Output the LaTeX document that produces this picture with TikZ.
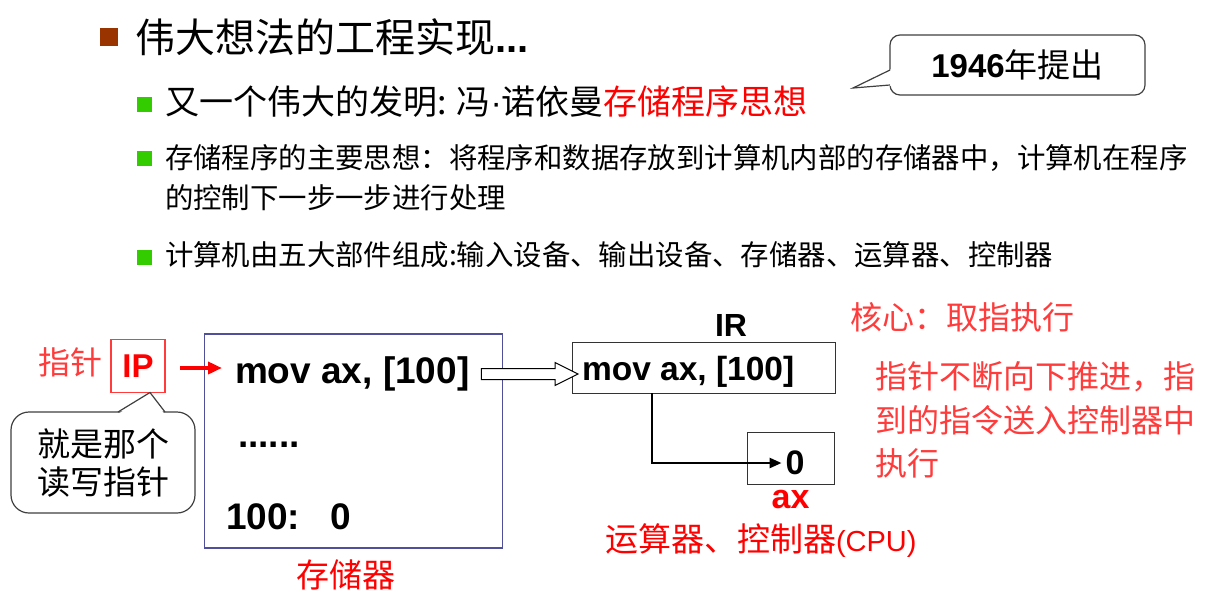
\documentclass[tikz,border=0pt]{standalone}
\usepackage{fontspec}
\setmainfont{Liberation Sans}
\newfontfamily\cjk{Noto Sans CJK SC}
\usepackage{xcolor}
\usetikzlibrary{positioning,calc,arrows.meta}
\definecolor{bulletgreen}{HTML}{33CC00}
\definecolor{titlebrown}{HTML}{993300}
\definecolor{hotred}{HTML}{FF0000}
\definecolor{softred}{HTML}{FF3B3B}
\definecolor{memblue}{HTML}{50509A}
\newcommand{\setpx}[2]{\fontsize{#1}{#2}\selectfont}

\begin{document}
\begin{tikzpicture}[
    x=1pt, y=-1pt,
    node distance=10pt and 10pt,
    every node/.style={inner sep=0pt, outer sep=0pt},
    titlebullet/.style={rectangle, fill=titlebrown, minimum size=18pt},
    bullet/.style={rectangle, fill=bulletgreen, minimum size=15pt},
    heading/.style={anchor=west, font=\cjk\setpx{40}{40}},
    point/.style={anchor=west, font=\cjk\setpx{34}{34}},
    subpoint/.style={anchor=north west, align=left, font=\cjk\setpx{28.4}{40}},
    note/.style={rectangle, draw=black!75, line width=1.2pt, fill=white, align=center},
    redtext/.style={text=softred, font=\cjk\setpx{32}{43.5}},
    hottext/.style={text=hotred, font=\cjk\setpx{33}{33}},
    code/.style={anchor=west, font=\bfseries\setpx{37}{37}},
    regbox/.style={rectangle, draw=black!80, line width=1pt},
    ptr/.style={-{Triangle[length=14pt,width=12pt]}, draw=hotred, line width=4pt},
    flow/.style={-{Triangle[length=12pt,width=10pt]}, line width=2.5pt},
    hollow/.style={draw=black, line width=1pt, fill=white, line join=miter}
]
\useasboundingbox (0,0) rectangle (1225,595);
\fill[white] (0,0) rectangle (1225,595);

% Title
\node[titlebullet] (tbullet) at (109,37) {};
\node[heading] (title) at (135,37) {伟大想法的工程实现{\bfseries\rmfamily...}};

% Points
\node[bullet] (b1) at (144.5,104.5) {};
\node[point] (p1) at (165,102) {又一个伟大的发明: 冯{\rmfamily ·}诺依曼\textcolor{hotred}{存储程序思想}};
\node[bullet] (b2) at (144.5,158.5) {};
\node[subpoint] (p2) at (165,144) {存储程序的主要思想：将程序和数据存放到计算机内部的存储器中，计算机在程序\\的控制下一步一步进行处理};
\node[bullet] (b3) at (144.5,257) {};
\node[point, font=\cjk\setpx{28.4}{28.4}] (p3) at (165,255) {计算机由五大部件组成:输入设备、输出设备、存储器、运算器、控制器};

% Year callout
\node[note, rounded corners=10pt, minimum width=255pt, minimum height=60pt] (yearbox) at (1017.5,65)
    {\setpx{33}{33}\bfseries 1946{\cjk\mdseries 年提出}};
\coordinate (yeartip) at ([shift={(-37,23)}]yearbox.west);
\fill[white] ([shift={(1.5,4)}]yearbox.west) -- (yeartip) -- ([shift={(1.5,21)}]yearbox.west) -- cycle;
\draw[black!75, line width=1.2pt] ([shift={(0,5)}]yearbox.west) -- (yeartip) -- ([shift={(0,20)}]yearbox.west);

% Pointer
\node[redtext, anchor=west] (ptrname) at (38,362) {指针};
\node[rectangle, draw=softred, line width=1.2pt, minimum width=54pt, minimum height=53pt,
      text=hotred, font=\bfseries\setpx{33}{33}] (ip) at (138,366) {IP};

% Memory
\node[rectangle, draw=memblue, line width=1.5pt, minimum width=298pt, minimum height=214pt] (mem) at (353.5,441) {};
\node[code] (instr) at (235,374) {mov ax, [100]};
\node[code] (dots) at (238,445) {......};
\node[code] (cell) at (226,517) {100:\ \ \ 0};
\node[hottext, below=12pt of mem, xshift=-8pt] (memname) {存储器};

\draw[ptr] ([xshift=15pt,yshift=-2pt]ip.east) -- ([xshift=-13pt,yshift=-2pt]instr.west |- ip.east);

% IP note
\node[note, rounded corners=18pt, minimum width=184pt, minimum height=101pt,
      font=\cjk\setpx{33}{38}] (ipnote) at (103,462.5) {就是那个\\读写指针};
\coordinate (iptip) at ([xshift=12pt]ip.south);
\fill[white] ([shift={(16,1.5)}]ipnote.north) -- (iptip) -- ([shift={(61,1.5)}]ipnote.north) -- cycle;
\draw[black!75, line width=1.2pt] ([xshift=15pt]ipnote.north) -- (iptip) -- ([xshift=62pt]ipnote.north);

% CPU side
\node[regbox, minimum width=263pt, minimum height=51pt] (irbox) at (703.5,367.5) {};
\node[code, font=\bfseries\setpx{33.5}{33.5}] (irtext) at (582,372) {mov ax, [100]};
\node[font=\bfseries\setpx{32}{32}] (irname) at (731,325) {IR};
\node[regbox, minimum width=87pt, minimum height=52pt] (axbox) at (790.5,458) {};
\node[font=\bfseries\setpx{34}{34}] (axval) at (795,463) {0};
\node[text=hotred, font=\bfseries\setpx{34}{34}, below=6pt of axbox] (axname) {ax};
\node[hottext, anchor=west] (cpu) at (605,541) {运算器、控制器{\rmfamily\setpx{29}{29}(CPU)}};

\coordinate (hs) at ([xshift=12pt]instr.east);
\coordinate (he) at ([xshift=-4pt]irtext.west |- hs);
\draw[hollow] ($(hs)+(0,-5.5)$) -- ($(he)+(-23,-5.5)$) -- ($(he)+(-23,-11.5)$) -- (he)
    -- ($(he)+(-23,11.5)$) -- ($(he)+(-23,5.5)$) -- ($(hs)+(0,5.5)$) -- cycle;

\draw[flow] ([xshift=-51.5pt]irbox.south) |- ([xshift=-4pt]axval.west);

% Remarks
\node[redtext, anchor=west, font=\cjk\setpx{32}{32}] (core) at (850,317) {核心：取指执行};
\node[redtext, anchor=north west, align=left] (remark) at (875,362) {指针不断向下推进，指\\到的指令送入控制器中\\执行};

\end{tikzpicture}
\end{document}
